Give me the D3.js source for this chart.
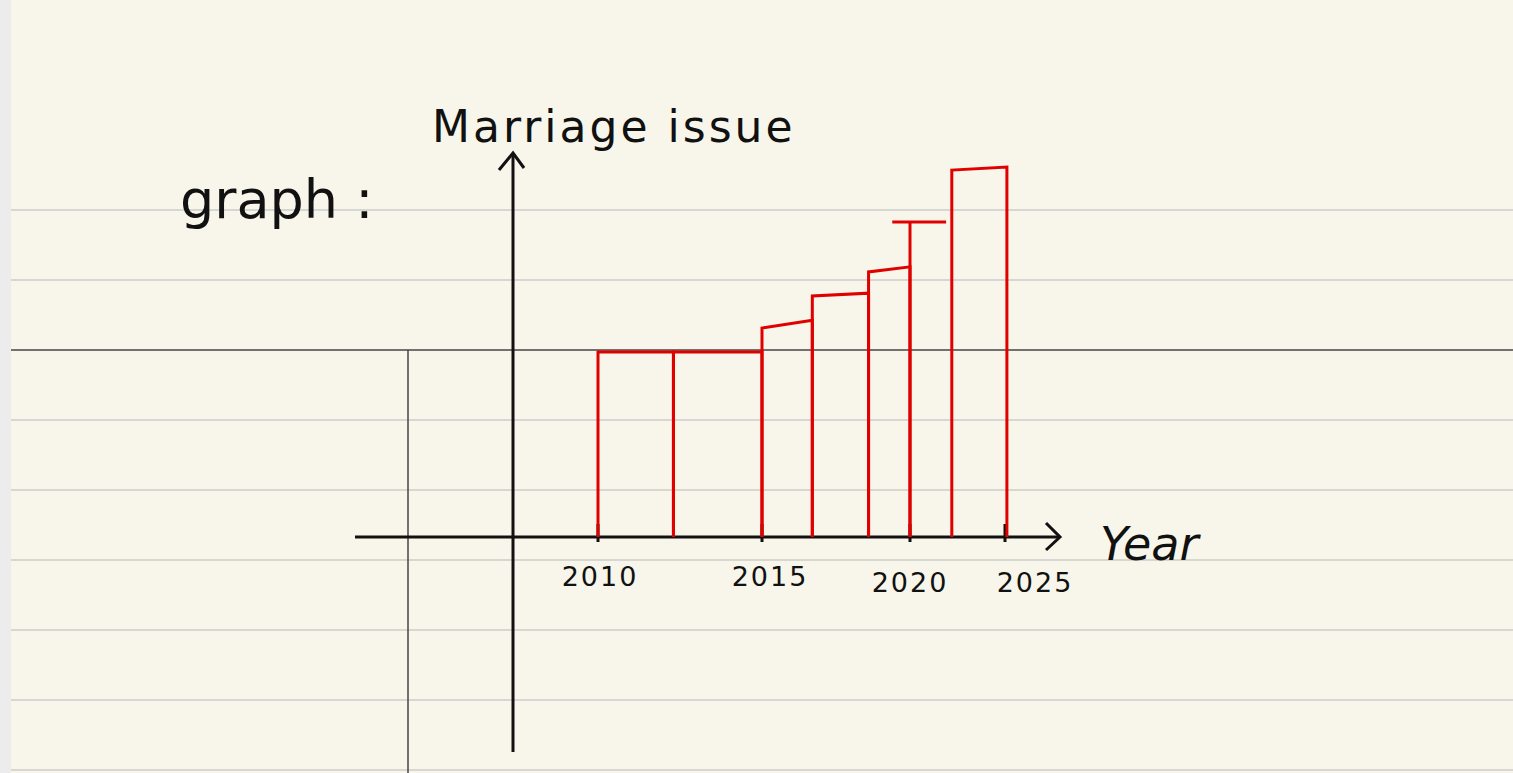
<!DOCTYPE html>
<html>
<head>
<meta charset="utf-8">
<script src="https://cdn.jsdelivr.net/npm/d3@7"></script>
<style>
  body { margin: 0; background: #f8f6ea; overflow: hidden; }
  text { font-family: "DejaVu Sans", sans-serif; fill: #111; }
</style>
</head>
<body>
<div id="chart"></div>
<script>
var svgWidth = 1513;
var svgHeight = 773;

// data
var tickYears = [2010, 2015, 2020, 2025];
var tickLabels = ["2010", "2015", "2020", "2025"];
var labelShift = [2, 8, 0, 30];
// each step: start year, end year, value at left, value at right
var stepStart = [2010, 2012.3, 2015, 2016.7, 2018.6, 2022.2];
var stepEnd = [2012.3, 2015, 2016.7, 2018.6, 2020, 2025.1];
var stepLeft = [47.8, 47.8, 54, 62.3, 68.5, 94.8];
var stepRight = [47.8, 47.8, 56, 63, 69.8, 95.6];
// the 2020 spike with its cap
var spikeYear = 2020;
var spikeValue = 81.4;
var spikeCap = [2019.4, 2021.9];

var ruleLines = [210, 280, 420, 490, 560, 630, 700, 770];

var svg = d3.select("#chart").append("svg")
  .attr("width", svgWidth)
  .attr("height", svgHeight);

// notebook paper
svg.append("rect").attr("width", svgWidth).attr("height", svgHeight).attr("fill", "#f8f6ea");
svg.append("rect").attr("width", 11).attr("height", svgHeight).attr("fill", "#ececec");
svg.selectAll(".rule").data(ruleLines).enter().append("line")
  .attr("x1", 11).attr("x2", svgWidth)
  .attr("y1", d => d).attr("y2", d => d)
  .attr("stroke", "#d6d6d2").attr("stroke-width", 2);
svg.append("line").attr("x1", 11).attr("x2", svgWidth).attr("y1", 350).attr("y2", 350)
  .attr("stroke", "#444").attr("stroke-width", 1.5);
svg.append("line").attr("x1", 408).attr("x2", 408).attr("y1", 350).attr("y2", svgHeight)
  .attr("stroke", "#444").attr("stroke-width", 1.5);

// scales (hand drawn, so the year spacing is uneven)
var x = d3.scaleLinear().domain(tickYears).range([598, 762, 910, 1005]);
var y = d3.scaleLinear().domain([0, 100]).range([537, 150]);

// axes
var axisColor = "#111";
svg.append("line").attr("x1", 355).attr("x2", 1058).attr("y1", 537).attr("y2", 537)
  .attr("stroke", axisColor).attr("stroke-width", 3);
svg.append("path").attr("d", "M1046,523 L1060,537 L1046,550")
  .attr("fill", "none").attr("stroke", axisColor).attr("stroke-width", 3);
svg.append("line").attr("x1", 513).attr("x2", 513).attr("y1", 155).attr("y2", 752)
  .attr("stroke", axisColor).attr("stroke-width", 3);
svg.append("path").attr("d", "M499,170 L513,153 L524,168")
  .attr("fill", "none").attr("stroke", axisColor).attr("stroke-width", 3);

svg.selectAll(".tick").data(tickYears).enter().append("line")
  .attr("x1", d => x(d)).attr("x2", d => x(d))
  .attr("y1", 524).attr("y2", 542)
  .attr("stroke", axisColor).attr("stroke-width", 3);
svg.selectAll(".ticklabel").data(tickLabels).enter().append("text")
  .attr("x", (d, i) => x(tickYears[i]) + labelShift[i])
  .attr("y", (d, i) => i >= 2 ? 592 : 586)
  .attr("text-anchor", "middle")
  .attr("font-size", 27)
  .attr("letter-spacing", 2)
  .text(d => d);

svg.append("text").attr("x", 1100).attr("y", 560).attr("font-size", 46).attr("font-style", "italic").text("Year");
svg.append("text").attr("x", 432).attr("y", 142).attr("font-size", 44).attr("letter-spacing", 3).text("Marriage issue");
svg.append("text").attr("x", 180).attr("y", 218).attr("font-size", 54).text("graph :");

// red steps
var red = "#e00000";
var steps = svg.append("g").attr("fill", "none").attr("stroke", red).attr("stroke-width", 3);
stepStart.forEach(function(s, i) {
  steps.append("path")
    .attr("d", "M" + x(s) + "," + y(0) +
      " L" + x(s) + "," + y(stepLeft[i]) +
      " L" + x(stepEnd[i]) + "," + y(stepRight[i]) +
      " L" + x(stepEnd[i]) + "," + y(0));
});
steps.append("line")
  .attr("x1", x(spikeYear)).attr("x2", x(spikeYear))
  .attr("y1", y(0)).attr("y2", y(spikeValue));
steps.append("line")
  .attr("x1", x(spikeCap[0])).attr("x2", x(spikeCap[1]))
  .attr("y1", y(spikeValue)).attr("y2", y(spikeValue));
</script>
</body>
</html>
